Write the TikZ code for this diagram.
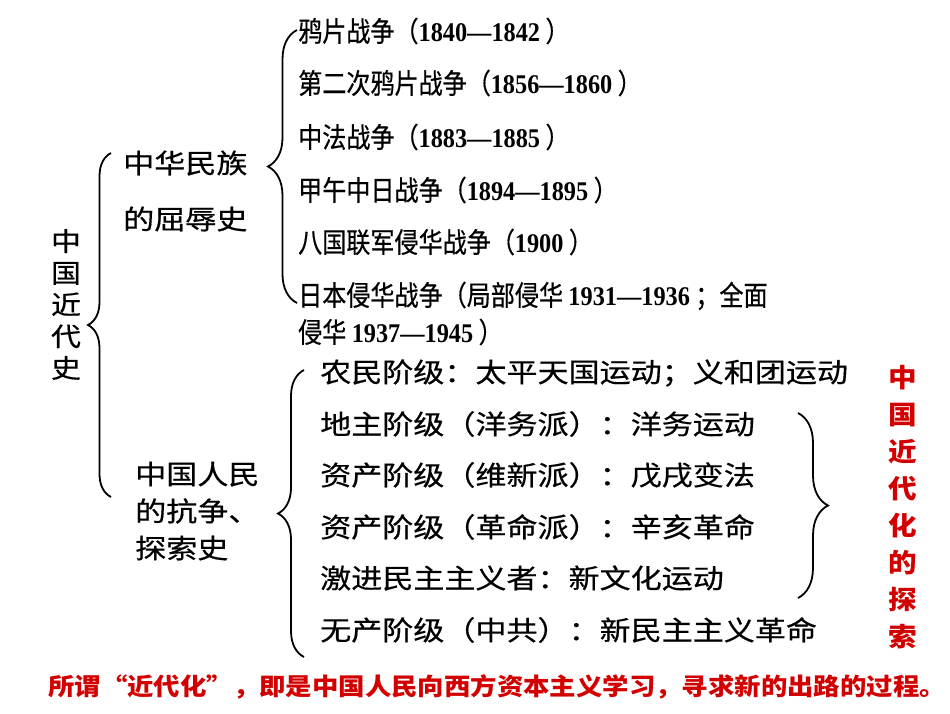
\documentclass[tikz,border=0pt]{standalone}
\usepackage{fontspec}
\usetikzlibrary{decorations.pathreplacing}
\setmainfont{Noto Sans CJK SC}
\newfontfamily\cjkn[FakeStretch=0.86,FakeBold=0.5]{Noto Sans CJK SC}
\newfontfamily\cjkw[FakeStretch=1.15,FakeBold=0.5]{Noto Sans CJK SC}
\newfontfamily\cjkr[FakeStretch=1.1]{Noto Sans CJK SC}
\newfontfamily\numf[FakeStretch=0.9]{Liberation Serif}
\definecolor{dred}{RGB}{210,0,0}
\newcommand\yr[1]{{\numf\bfseries\fontsize{27}{37}\selectfont #1}}
\begin{document}
\begin{tikzpicture}[x=1pt,y=-1pt,
  war/.style={anchor=west,inner sep=0pt,font=\cjkn\fontsize{28}{37}\selectfont,align=left},
  cls/.style={anchor=west,inner sep=0pt,font=\cjkw\fontsize{27}{37}\selectfont},
  topic/.style={anchor=west,inner sep=0pt,font=\cjkw\fontsize{27}{56}\selectfont,align=left},
  vert/.style={inner sep=0pt,font=\cjkw\fontsize{26}{31.7}\selectfont,align=center},
  redv/.style={inner sep=0pt,text=dred,font=\cjkr\bfseries\fontsize{26}{37.1}\selectfont,align=center},
  bracestyle/.style={draw=black,line width=1.8pt,decorate,decoration={brace,amplitude=#1}}]
\useasboundingbox (0,0) rectangle (950,713);
\fill[white] (0,0) rectangle (950,713);

% root
\node[vert] (root) at (66,304.5) {中\\国\\近\\代\\史};

% branch nodes
\node[topic] (humil) at (123,191) {中华民族\\的屈辱史};
\node[topic,font=\cjkw\fontsize{27}{37}\selectfont] (strug) at (135,511) {中国人民\\的抗争、\\探索史};

% wars
\node[war] (w1) at (298,31) {鸦片战争（\yr{1840—1842} ）};
\node[war] (w2) at (298,83) {第二次鸦片战争（\yr{1856—1860} ）};
\node[war] (w3) at (298,137) {中法战争（\yr{1883—1885} ）};
\node[war] (w4) at (298,190) {甲午中日战争（\yr{1894—1895} ）};
\node[war] (w5) at (298,242) {八国联军侵华战争（\yr{1900} ）};
\node[war] (w6) at (298,313.5) {日本侵华战争（局部侵华 \yr{1931—1936} ；全面\\侵华 \yr{1937—1945} ）};

% classes
\node[cls] (c1) at (320,373) {农民阶级：太平天国运动；义和团运动};
\node[cls] (c2) at (320,424) {地主阶级（洋务派）：洋务运动};
\node[cls] (c3) at (320,475) {资产阶级（维新派）：戊戌变法};
\node[cls] (c4) at (320,527) {资产阶级（革命派）：辛亥革命};
\node[cls] (c5) at (320,578) {激进民主主义者：新文化运动};
\node[cls] (c6) at (320,630) {无产阶级（中共）：新民主主义革命};

% red vertical
\node[redv] (modern) at (903,507) {中\\国\\近\\代\\化\\的\\探\\索};

% bottom note
\node[anchor=west,inner sep=0pt,text=dred,font=\cjkr\bfseries\fontsize{24}{28}\selectfont] (note) at (48,687)
  {所谓“近代化”，即是中国人民向西方资本主义学习，寻求新的出路的过程。};

% braces
\coordinate (b1t) at (111,153); \coordinate (b1b) at (111,497);
\coordinate (b2t) at (297,30);  \coordinate (b2b) at (297,303);
\coordinate (b3t) at (304,370); \coordinate (b3b) at (304,657);
\coordinate (b4t) at (798,413); \coordinate (b4b) at (798,598);
\draw[bracestyle=23pt] (b1b) -- (b1t);
\draw[bracestyle=29pt] (b2b) -- (b2t);
\draw[bracestyle=26pt] (b3b) -- (b3t);
\draw[bracestyle=30pt] (b4t) -- (b4b);
\end{tikzpicture}
\end{document}
